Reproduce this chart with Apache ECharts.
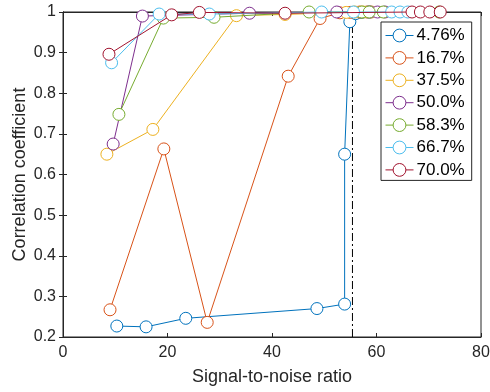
<!DOCTYPE html>
<html>
<head>
<meta charset="utf-8">
<script src="https://cdn.jsdelivr.net/npm/echarts@6/dist/echarts.min.js"></script>
<style>
  html, body { margin: 0; padding: 0; background: #fff; }
  #chart { width: 490px; height: 392px; }
</style>
</head>
<body>
<div id="chart"></div>
<script>
// series names and colours (MATLAB default order)
var seriesNames = ['4.76%', '16.7%', '37.5%', '50.0%', '58.3%', '66.7%', '70.0%'];
var seriesColors = ['#0072BD', '#D95319', '#EDB120', '#7E2F8E', '#77AC30', '#4DBEEE', '#A2142F'];

// [snr, correlation]
var s476 = [[10.3, 0.227], [15.9, 0.225], [23.5, 0.246], [48.6, 0.270], [53.9, 0.281], [53.9, 0.650], [54.9, 0.976], [56.0, 0.996], [57.2, 0.999], [58.5, 1.0]];
var s167 = [[9.0, 0.267], [19.3, 0.663], [27.6, 0.236], [43.1, 0.842], [49.2, 0.984], [53.0, 0.998], [55.0, 0.999], [56.8, 1.0], [58.2, 1.0]];
var s375 = [[8.4, 0.650], [17.2, 0.711], [33.2, 0.991], [42.5, 0.994], [54.2, 0.999], [55.8, 1.0], [57.4, 1.0], [59.0, 1.0]];
var s500 = [[9.6, 0.675], [15.2, 0.990], [35.7, 0.997], [52.4, 1.0], [58.8, 1.0], [60.2, 1.0], [61.6, 1.0]];
var s583 = [[10.7, 0.748], [19.2, 0.985], [28.9, 0.987], [47.1, 1.0], [57.2, 1.0], [58.6, 1.0], [61.3, 1.0], [72.0, 1.0]];
var s667 = [[9.3, 0.875], [18.4, 0.995], [28.0, 0.995], [49.5, 1.0], [55.6, 1.0], [62.9, 1.0], [64.5, 1.0], [66.0, 1.0]];
var s700 = [[8.8, 0.896], [20.8, 0.993], [26.1, 0.999], [42.5, 0.997], [66.8, 1.0], [68.4, 1.0], [70.2, 1.0], [72.2, 1.0]];
var allSeries = [s476, s167, s375, s500, s583, s667, s700];

// vertical dash-dot threshold
var thresholdX = 55.4;

var xTicks = { min: 0, max: 80, interval: 20 };
var yTicks = { min: 0.2, max: 1, interval: 0.1 };

var axisColor = '#262626';
var fontFam = '"Liberation Sans", Arial, sans-serif';

var chart = echarts.init(document.getElementById('chart'));

var series = [{
    name: 'threshold',
    type: 'line',
    data: [[thresholdX, yTicks.min], [thresholdX, yTicks.max]],
    symbol: 'none',
    clip: false,
    lineStyle: { width: 1, type: [8, 3, 2, 3], color: '#000' },
    itemStyle: { color: '#000' },
    z: 1
}];
allSeries.forEach(function (d, i) {
    series.push({
        name: seriesNames[i],
        type: 'line',
        data: d,
        symbol: 'circle',
        symbolSize: 12,
        showAllSymbol: true,
        clip: false,
        lineStyle: { width: 1, color: seriesColors[i] },
        itemStyle: { color: '#fff', borderColor: seriesColors[i], borderWidth: 1 },
        emphasis: { disabled: true },
        z: 2 + i
    });
});

var option = {
    animation: false,
    backgroundColor: '#fff',
    grid: {
        left: 63, right: 9, top: 12, bottom: 55,
        outerBoundsMode: 'none',
        containLabel: false,
        show: true, borderColor: axisColor, borderWidth: 1
    },
    legend: {
        data: seriesNames,
        orient: 'vertical',
        left: 381, top: 22,
        padding: [5, 7, 2, 4],
        itemWidth: 28, itemHeight: 16,
        itemGap: 5.4,
        itemStyle: { borderWidth: 1 },
        lineStyle: { width: 1 },
        backgroundColor: '#fff',
        borderColor: axisColor, borderWidth: 1,
        textStyle: { fontFamily: fontFam, fontSize: 17, lineHeight: 16, color: '#000', padding: [0, 0, 0, -2] }
    },
    xAxis: [{
        type: 'value',
        min: xTicks.min, max: xTicks.max, interval: xTicks.interval,
        name: 'Signal-to-noise ratio',
        nameLocation: 'middle', nameGap: 31,
        nameMoveOverlap: false,
        nameTextStyle: { fontFamily: fontFam, fontSize: 18, color: '#262626' },
        axisLine: { show: true, onZero: false, lineStyle: { color: axisColor } },
        axisTick: { inside: true, length: 4, lineStyle: { color: axisColor } },
        axisLabel: { fontFamily: fontFam, fontSize: 16, color: '#262626', margin: 8 },
        splitLine: { show: false }
    }, {
        type: 'value', position: 'top',
        min: xTicks.min, max: xTicks.max, interval: xTicks.interval,
        axisLine: { show: true, lineStyle: { color: axisColor } },
        axisTick: { inside: true, length: 4, lineStyle: { color: axisColor } },
        axisLabel: { show: false },
        splitLine: { show: false }
    }],
    yAxis: [{
        type: 'value',
        min: yTicks.min, max: yTicks.max, interval: yTicks.interval,
        name: 'Correlation coefficient',
        nameLocation: 'middle', nameGap: 34,
        nameMoveOverlap: false,
        nameTextStyle: { fontFamily: fontFam, fontSize: 18, color: '#262626' },
        axisLine: { show: true, onZero: false, lineStyle: { color: axisColor } },
        axisTick: { inside: true, length: 4, lineStyle: { color: axisColor } },
        axisLabel: {
            fontFamily: fontFam, fontSize: 16, color: '#262626', margin: 7,
            formatter: function (v) { return String(+v.toFixed(1)); }
        },
        splitLine: { show: false }
    }, {
        type: 'value', position: 'right',
        min: yTicks.min, max: yTicks.max, interval: yTicks.interval,
        axisLine: { show: true, lineStyle: { color: axisColor } },
        axisTick: { inside: true, length: 4, lineStyle: { color: axisColor } },
        axisLabel: { show: false },
        splitLine: { show: false }
    }],
    series: series
};

chart.setOption(option);
</script>
</body>
</html>
